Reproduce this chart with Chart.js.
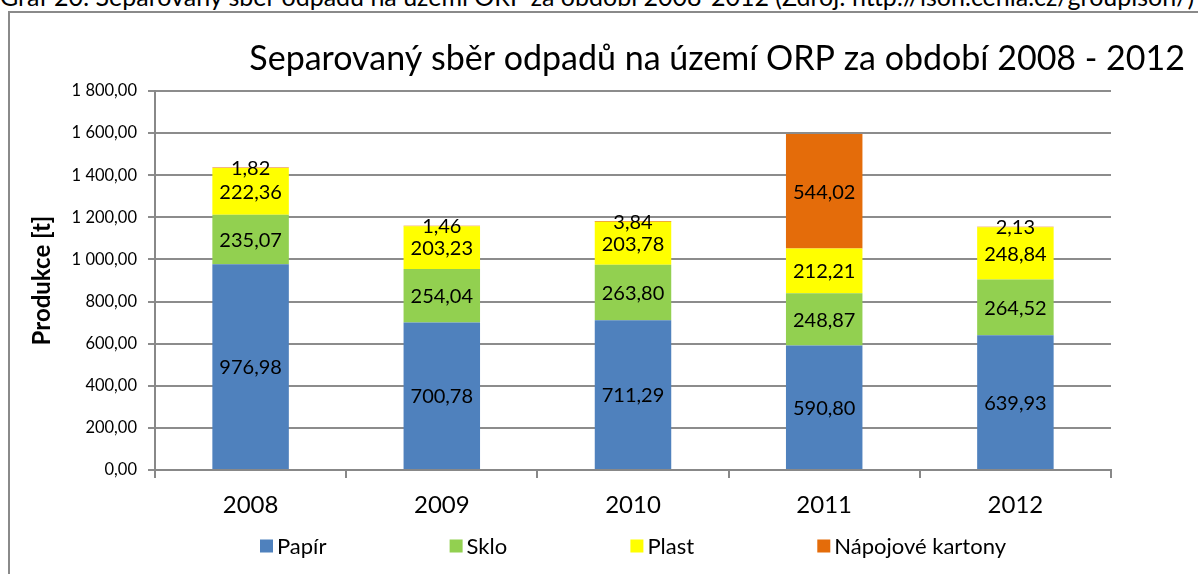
<!DOCTYPE html>
<html>
<head>
<meta charset="utf-8">
<script src="https://cdn.jsdelivr.net/npm/chart.js@4/dist/chart.umd.min.js"></script>
<style>
  html, body { margin: 0; padding: 0; background: #fff; overflow: hidden; }
  #wrap { position: relative; width: 1198px; height: 574px; overflow: hidden; }
  #caption { position: absolute; left: 0; top: -16px; font-family: Lato, sans-serif; font-size: 25px; line-height: 25px; white-space: nowrap; color: #000; }
  #frame { position: absolute; left: 8px; top: 11px; width: 1300px; height: 700px; border: 2px solid #8a8a8a; box-sizing: border-box; }
  #c { position: absolute; left: 0; top: 0; }
</style>
</head>
<body>
<div id="wrap">
  <div id="caption">Graf 20: Separovaný sběr odpadů na území ORP za období 2008-2012 (Zdroj: http://isoh.cenia.cz/groupisoh/)</div>
  <div id="frame"></div>
  <canvas id="c" width="1198" height="574"></canvas>
</div>
<script>
const categories = ['2008', '2009', '2010', '2011', '2012'];
const seriesNames = ['Papír', 'Sklo', 'Plast', 'Nápojové kartony'];
const papir = [976.98, 700.78, 711.29, 590.80, 639.93];
const sklo = [235.07, 254.04, 263.80, 248.87, 264.52];
const plast = [222.36, 203.23, 203.78, 212.21, 248.84];
const kartony = [1.82, 1.46, 3.84, 544.02, 2.13];
const seriesColors = ['#4F81BD', '#92D050', '#FFFF00', '#E46C0A'];
const chartTitle = 'Separovaný sběr odpadů na území ORP za období 2008 - 2012';
const yTitle = 'Produkce [t]';

const FONT = 'Lato, "Open Sans", sans-serif';

function fmt(v) {
  const parts = v.toFixed(2).split('.');
  const intPart = parts[0].replace(/\B(?=(\d{3})+(?!\d))/g, ' ');
  return intPart + ',' + parts[1];
}

const labelPlugin = {
  id: 'barLabels',
  afterDatasetsDraw(chart) {
    const ctx = chart.ctx;
    ctx.save();
    ctx.font = '20px ' + FONT;
    ctx.fillStyle = '#000';
    ctx.textAlign = 'center';
    ctx.textBaseline = 'middle';
    chart.data.datasets.forEach((ds, i) => {
      const meta = chart.getDatasetMeta(i);
      meta.data.forEach((bar, j) => {
        const p = bar.getProps(['x', 'y', 'base'], true);
        const cy = (p.y + p.base) / 2;
        ctx.fillText(fmt(ds.data[j]), p.x, cy + 1);
      });
    });
    ctx.restore();
  }
};

const titlePlugin = {
  id: 'customTitle',
  afterDraw(chart) {
    const ctx = chart.ctx;
    ctx.save();
    ctx.font = '34px ' + FONT;
    ctx.fillStyle = '#000';
    ctx.textAlign = 'right';
    ctx.textBaseline = 'alphabetic';
    ctx.fillText(chartTitle, 1185, 70);
    ctx.restore();
  }
};

// Legend drawn from the datasets (labels + colours), laid out like the Excel legend
const legendPlugin = {
  id: 'customLegend',
  afterDraw(chart) {
    const ctx = chart.ctx;
    const area = chart.chartArea;
    ctx.save();
    ctx.font = '22px ' + FONT;
    ctx.textBaseline = 'middle';
    ctx.textAlign = 'left';
    const box = 13, gap = 4, totalW = 746;
    const items = chart.data.datasets.map(ds => ({ label: ds.label, color: ds.backgroundColor, w: box + gap + ctx.measureText(ds.label).width }));
    const sum = items.reduce((a, b) => a + b.w, 0);
    const pad = (totalW - sum) / (items.length - 1);
    let x = (area.left + area.right) / 2 - totalW / 2;
    const y = 546;
    items.forEach(it => {
      ctx.fillStyle = it.color;
      ctx.fillRect(x, y - box / 2, box, box);
      ctx.fillStyle = '#000';
      ctx.fillText(it.label, x + box + gap, y + 1);
      x += it.w + pad;
    });
    ctx.restore();
  }
};

new Chart(document.getElementById('c'), {
  type: 'bar',
  data: {
    labels: categories,
    datasets: [papir, sklo, plast, kartony].map((d, i) => ({
      label: seriesNames[i],
      data: d,
      backgroundColor: seriesColors[i],
      borderWidth: 0,
      barPercentage: 0.4,
      categoryPercentage: 1.0
    }))
  },
  options: {
    responsive: false,
    animation: false,
    devicePixelRatio: 1,
    layout: { padding: { top: 91, right: 87, bottom: 0, left: 0 } },
    plugins: {
      title: { display: false },
      tooltip: { enabled: false },
      legend: { display: false }
    },
    scales: {
      x: {
        stacked: true,
        offset: true,
        afterFit(scale) { scale.height = 104; },
        grid: { display: true, drawOnChartArea: false, drawTicks: true, tickLength: 8, color: '#888', lineWidth: 2, offset: true },
        border: { color: '#888', width: 2 },
        ticks: { font: { family: FONT, size: 24 }, color: '#000', padding: 13 }
      },
      y: {
        stacked: true,
        min: 0,
        max: 1800,
        afterFit(scale) { scale.width = 155; },
        ticks: {
          stepSize: 200,
          font: { family: FONT, size: 16.5 },
          color: '#000',
          padding: 11,
          callback: (v) => fmt(v)
        },
        grid: { color: '#8c8c8c', lineWidth: 2, tickLength: 7 },
        border: { color: '#888', width: 2 },
        title: {
          display: true,
          text: yTitle,
          font: { family: FONT, size: 24, weight: 'bold' },
          color: '#000',
          padding: { top: 28, bottom: 0 }
        }
      }
    }
  },
  plugins: [labelPlugin, titlePlugin, legendPlugin]
});
</script>
</body>
</html>
